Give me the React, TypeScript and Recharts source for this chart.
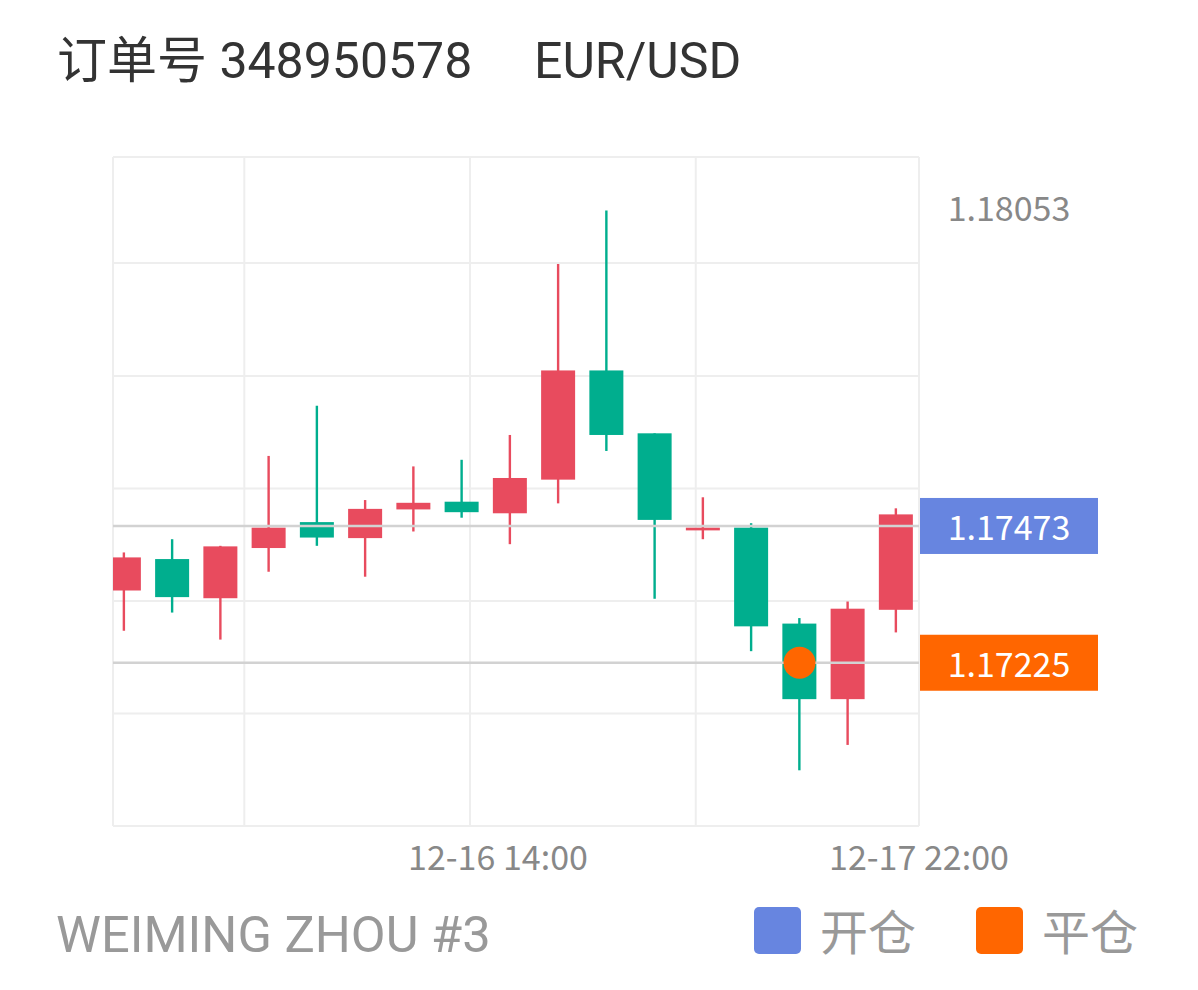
import React from 'react';
import {
  ComposedChart,
  Bar,
  XAxis,
  YAxis,
  CartesianGrid,
  ReferenceLine,
  ReferenceDot,
} from 'recharts';

// ---- data ----
const candleIndex = [0, 1, 2, 3, 4, 5, 6, 7, 8, 9, 10, 11, 12, 13, 14, 15, 16];
const opens = [
  1.17356, 1.17413, 1.17342, 1.17433, 1.1748, 1.17451, 1.17503, 1.17517, 1.17496,
  1.17557, 1.17755, 1.17641, 1.17465, 1.1747, 1.17296, 1.17159, 1.17321,
];
const closes = [
  1.17416, 1.17344, 1.17436, 1.1747, 1.17452, 1.17504, 1.17515, 1.17498, 1.1756,
  1.17755, 1.17638, 1.17484, 1.1747, 1.17291, 1.17159, 1.17323, 1.17494,
];
const highs = [
  1.17425, 1.17449, 1.17437, 1.176, 1.17691, 1.1752, 1.17581, 1.17593, 1.17638,
  1.17948, 1.18045, 1.17641, 1.17525, 1.17478, 1.17306, 1.17336, 1.17505,
];
const lows = [
  1.17283, 1.17316, 1.17267, 1.1739, 1.17437, 1.17381, 1.17463, 1.17488, 1.1744,
  1.17514, 1.17609, 1.17341, 1.17449, 1.17246, 1.1703, 1.17076, 1.1728,
];

const priceDomain = [1.16929, 1.18142];
const slotDomain = [-0.228, 16.477];
const gridPrices = [1.16929, 1.17133, 1.17337, 1.17541, 1.17745, 1.1795, 1.18142];
const gridSlots = [-0.228, 2.493, 7.171, 11.85, 16.477];
const xTickSlots = [7.751, 16.477];
const xTickLabels = ['12-16 14:00', '12-17 22:00'];
const maxPriceLabel = 1.18053;
const openPrice = 1.17473;
const closePrice = 1.17225;
const closeSlot = 14;
const priceTicks = [maxPriceLabel, openPrice, closePrice];

const titleOrder = '订单号 348950578';
const titleSymbol = 'EUR/USD';
const footerName = 'WEIMING ZHOU #3';
const legendOpen = '开仓';
const legendClose = '平仓';

// ---- styles ----
const RED = '#E84B5E';
const GREEN = '#00AE8E';
const BLUE = '#6785E0';
const ORANGE = '#FF6600';
const CJK = "'Noto Sans CJK SC', 'Noto Sans', sans-serif";
const ROBOTO = "Roboto, 'Noto Sans CJK SC', sans-serif";

const rows = candleIndex.map((i, k) => ({
  i,
  open: opens[k],
  close: closes[k],
  high: highs[k],
  low: lows[k],
  range: [lows[k], highs[k]],
}));

const Candle = (props: any) => {
  const { x, y, width, height, payload } = props;
  if (x == null || y == null) return null;
  const top = Math.min(y, y + height);
  const h = Math.abs(height);
  const { open, close, high, low } = payload;
  const span = high - low;
  const px = (v: number) => top + (span === 0 ? 0 : ((high - v) / span) * h);
  const up = close >= open;
  const color = up ? RED : GREEN;
  const bTop = px(Math.max(open, close));
  const bBot = px(Math.min(open, close));
  const cx = x + width / 2;
  return (
    <g>
      <rect x={cx - 1.2} y={top} width={2.4} height={h} fill={color} />
      <rect x={x} y={bTop} width={width} height={Math.max(bBot - bTop, 2.5)} fill={color} />
    </g>
  );
};

const XTick = (props: any) => {
  const { x, y, payload } = props;
  const idx = xTickSlots.indexOf(payload.value);
  return (
    <text
      x={x}
      y={y + 29}
      textAnchor="middle"
      dominantBaseline="central"
      fill="#888888"
      fontSize={34}
      fontFamily={CJK}
    >
      {idx >= 0 ? xTickLabels[idx] : ''}
    </text>
  );
};

const PriceTick = (props: any) => {
  const { x, y, payload } = props;
  const v = payload.value;
  const label = v.toFixed(5);
  if (v === openPrice || v === closePrice) {
    const fill = v === openPrice ? BLUE : ORANGE;
    return (
      <g>
        <rect x={x + 1} y={y - 28} width={178} height={56} fill={fill} />
        <text
          x={x + 90}
          y={y}
          textAnchor="middle"
          dominantBaseline="central"
          fill="#ffffff"
          fontSize={34}
          fontFamily={CJK}
        >
          {label}
        </text>
      </g>
    );
  }
  return (
    <text
      x={x + 90}
      y={y}
      textAnchor="middle"
      dominantBaseline="central"
      fill="#888888"
      fontSize={34}
      fontFamily={CJK}
    >
      {label}
    </text>
  );
};

export default function App() {
  return (
    <div style={{ position: 'absolute', left: 0, top: 0, width: 1198, height: 990, background: '#fff' }}>
      <svg
        width={1198}
        height={990}
        style={{ position: 'absolute', left: 0, top: 0 }}
      >
        <text x={57} y={78} fontSize={50} fontFamily={ROBOTO} fill="#333333">
          {titleOrder}
        </text>
        <text x={534} y={78} fontSize={50} fontFamily={ROBOTO} fill="#333333">
          {titleSymbol}
        </text>
        <text x={56} y={952} fontSize={50.6} fontFamily={ROBOTO} fill="#999999">
          {footerName}
        </text>
        <rect x={754} y={907} width={47} height={47} rx={5} fill={BLUE} />
        <text x={820} y={950} fontSize={48} fontFamily={CJK} fill="#999999">
          {legendOpen}
        </text>
        <rect x={976} y={907} width={47} height={47} rx={5} fill={ORANGE} />
        <text x={1042} y={950} fontSize={48} fontFamily={CJK} fill="#999999">
          {legendClose}
        </text>
      </svg>
      <div style={{ position: 'absolute', left: 0, top: 0 }}>
        <ComposedChart
          width={1198}
          height={900}
          data={rows}
          margin={{ top: 157, right: 0, bottom: 14, left: 113 }}
        >
          <CartesianGrid
            stroke="#eeeeee"
            strokeWidth={2}
            horizontalValues={gridPrices}
            verticalValues={gridSlots}
          />
          <XAxis
            dataKey="i"
            type="number"
            domain={slotDomain}
            allowDataOverflow
            ticks={xTickSlots}
            interval={0}
            tick={<XTick />}
            axisLine={false}
            tickLine={false}
            tickSize={0}
            tickMargin={0}
            height={60}
          />
          <YAxis
            orientation="right"
            type="number"
            domain={priceDomain}
            allowDataOverflow
            ticks={priceTicks}
            interval={0}
            tick={<PriceTick />}
            axisLine={false}
            tickLine={false}
            tickSize={0}
            tickMargin={0}
            width={279}
          />
          <Bar
            dataKey="range"
            barSize={34}
            shape={(p: any) => <Candle {...p} />}
            isAnimationActive={false}
          />
          <ReferenceLine y={openPrice} stroke="#d2d2d2" strokeWidth={2.5} />
          <ReferenceLine y={closePrice} stroke="#d2d2d2" strokeWidth={2.5} />
          <ReferenceDot
            x={closeSlot}
            y={closePrice}
            r={16}
            fill={ORANGE}
            stroke="none"
          />
        </ComposedChart>
      </div>
    </div>
  );
}
